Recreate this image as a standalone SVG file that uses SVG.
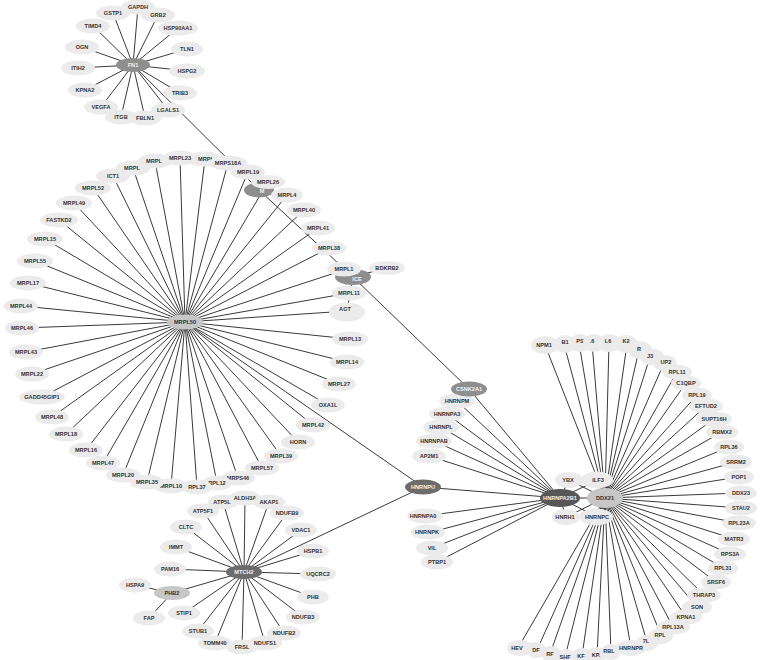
<svg xmlns="http://www.w3.org/2000/svg" width="779" height="660" viewBox="0 0 779 660">
<style>
.e line{stroke:#3a3a3a;stroke-width:1}
ellipse{fill:#ebebeb}
text{font-family:"Liberation Sans",Arial,sans-serif;font-weight:bold;font-size:5.6px;fill:#333;text-anchor:middle}
.hd ellipse{fill:#6c6c6c}
.hd text{fill:#f2f2f2}
.hm ellipse{fill:#8e8e8e}
.hm text{fill:#f2f2f2}
.hl ellipse{fill:#c6c6c6}
</style>
<rect width="779" height="660" fill="#fff"/>
<g id="edges" class="e">
<line x1="133" y1="65" x2="138" y2="7"/><line x1="133" y1="65" x2="113" y2="13"/><line x1="133" y1="65" x2="158" y2="15"/><line x1="133" y1="65" x2="93" y2="26"/><line x1="133" y1="65" x2="178" y2="28"/><line x1="133" y1="65" x2="82" y2="47"/><line x1="133" y1="65" x2="187" y2="49"/><line x1="133" y1="65" x2="78" y2="68"/><line x1="133" y1="65" x2="187" y2="71"/><line x1="133" y1="65" x2="85" y2="90"/><line x1="133" y1="65" x2="180" y2="93"/><line x1="133" y1="65" x2="101" y2="107"/><line x1="133" y1="65" x2="168" y2="110"/><line x1="133" y1="65" x2="121" y2="117"/><line x1="133" y1="65" x2="145" y2="118"/>
<line x1="133" y1="65" x2="259" y2="190"/>
<line x1="259" y1="190" x2="353" y2="277"/>
<line x1="353" y1="277" x2="386" y2="268"/>
<line x1="353" y1="277" x2="347" y2="311"/>
<line x1="353" y1="277" x2="469" y2="389"/>
<line x1="185" y1="322" x2="423" y2="487"/>
<line x1="244" y1="572" x2="423" y2="487"/>
<line x1="423" y1="487" x2="560" y2="498"/>
<line x1="469" y1="389" x2="560" y2="498"/>
<line x1="185" y1="322" x2="28" y2="283"/><line x1="185" y1="322" x2="35" y2="261"/><line x1="185" y1="322" x2="45" y2="239"/><line x1="185" y1="322" x2="59" y2="220"/><line x1="185" y1="322" x2="74" y2="203"/><line x1="185" y1="322" x2="93" y2="188"/><line x1="185" y1="322" x2="113" y2="176"/><line x1="185" y1="322" x2="133" y2="168"/><line x1="185" y1="322" x2="155" y2="161"/><line x1="185" y1="322" x2="180" y2="158"/><line x1="185" y1="322" x2="205" y2="159"/><line x1="185" y1="322" x2="228" y2="163"/><line x1="185" y1="322" x2="248" y2="172"/><line x1="185" y1="322" x2="268" y2="182"/><line x1="185" y1="322" x2="287" y2="195"/><line x1="185" y1="322" x2="304" y2="210"/><line x1="185" y1="322" x2="318" y2="228"/><line x1="185" y1="322" x2="329" y2="248"/><line x1="185" y1="322" x2="344" y2="270"/><line x1="185" y1="322" x2="349" y2="293"/><line x1="185" y1="322" x2="347" y2="311"/><line x1="185" y1="322" x2="350" y2="339"/><line x1="185" y1="322" x2="347" y2="362"/><line x1="185" y1="322" x2="339" y2="384"/><line x1="185" y1="322" x2="328" y2="405"/><line x1="185" y1="322" x2="313" y2="425"/><line x1="185" y1="322" x2="298" y2="442"/><line x1="185" y1="322" x2="281" y2="456"/><line x1="185" y1="322" x2="262" y2="468"/><line x1="185" y1="322" x2="238" y2="478"/><line x1="185" y1="322" x2="217" y2="483"/><line x1="185" y1="322" x2="197" y2="487"/><line x1="185" y1="322" x2="171" y2="486"/><line x1="185" y1="322" x2="147" y2="482"/><line x1="185" y1="322" x2="123" y2="475"/><line x1="185" y1="322" x2="103" y2="463"/><line x1="185" y1="322" x2="86" y2="450"/><line x1="185" y1="322" x2="66" y2="434"/><line x1="185" y1="322" x2="52" y2="417"/><line x1="185" y1="322" x2="42" y2="397"/><line x1="185" y1="322" x2="32" y2="374"/><line x1="185" y1="322" x2="26" y2="352"/><line x1="185" y1="322" x2="22" y2="328"/><line x1="185" y1="322" x2="22" y2="306"/>
<line x1="244" y1="572" x2="245" y2="498"/><line x1="244" y1="572" x2="223" y2="502"/><line x1="244" y1="572" x2="203" y2="511"/><line x1="244" y1="572" x2="269" y2="502"/><line x1="244" y1="572" x2="287" y2="513"/><line x1="244" y1="572" x2="301" y2="530"/><line x1="244" y1="572" x2="313" y2="551"/><line x1="244" y1="572" x2="318" y2="574"/><line x1="244" y1="572" x2="313" y2="597"/><line x1="244" y1="572" x2="303" y2="617"/><line x1="244" y1="572" x2="284" y2="633"/><line x1="244" y1="572" x2="265" y2="643"/><line x1="244" y1="572" x2="242" y2="647"/><line x1="244" y1="572" x2="215" y2="643"/><line x1="244" y1="572" x2="198" y2="631"/><line x1="244" y1="572" x2="184" y2="613"/><line x1="244" y1="572" x2="172" y2="593"/><line x1="244" y1="572" x2="170" y2="569"/><line x1="244" y1="572" x2="176" y2="547"/><line x1="244" y1="572" x2="186" y2="527"/>
<line x1="172" y1="593" x2="135" y2="585"/><line x1="172" y1="593" x2="149" y2="618"/>
<line x1="560" y1="498" x2="457" y2="401"/><line x1="560" y1="498" x2="447" y2="414"/><line x1="560" y1="498" x2="441" y2="427"/><line x1="560" y1="498" x2="434" y2="441"/><line x1="560" y1="498" x2="429" y2="456"/><line x1="560" y1="498" x2="424" y2="516"/><line x1="560" y1="498" x2="428" y2="533"/><line x1="560" y1="498" x2="432" y2="548"/><line x1="560" y1="498" x2="437" y2="562"/>
<line x1="560" y1="498" x2="569" y2="480"/><line x1="560" y1="498" x2="598" y2="480"/><line x1="560" y1="498" x2="566" y2="517"/><line x1="560" y1="498" x2="597" y2="517"/><line x1="560" y1="498" x2="605" y2="498"/>
<line x1="605" y1="498" x2="569" y2="480"/><line x1="605" y1="498" x2="598" y2="480"/><line x1="605" y1="498" x2="566" y2="517"/><line x1="605" y1="498" x2="597" y2="517"/>
<line x1="605" y1="498" x2="545" y2="345"/><line x1="605" y1="498" x2="564" y2="344"/><line x1="605" y1="498" x2="579" y2="343"/><line x1="605" y1="498" x2="592" y2="343"/><line x1="605" y1="498" x2="609" y2="343"/><line x1="605" y1="498" x2="627" y2="344"/><line x1="605" y1="498" x2="639" y2="350"/><line x1="605" y1="498" x2="650" y2="357"/><line x1="605" y1="498" x2="664" y2="363"/><line x1="605" y1="498" x2="677" y2="372"/><line x1="605" y1="498" x2="686" y2="383"/><line x1="605" y1="498" x2="697" y2="395"/><line x1="605" y1="498" x2="706" y2="406"/><line x1="605" y1="498" x2="714" y2="419"/><line x1="605" y1="498" x2="722" y2="432"/><line x1="605" y1="498" x2="729" y2="447"/><line x1="605" y1="498" x2="736" y2="462"/><line x1="605" y1="498" x2="739" y2="477"/><line x1="605" y1="498" x2="741" y2="493"/><line x1="605" y1="498" x2="741" y2="508"/><line x1="605" y1="498" x2="739" y2="523"/><line x1="605" y1="498" x2="734" y2="539"/><line x1="605" y1="498" x2="730" y2="554"/><line x1="605" y1="498" x2="723" y2="568"/><line x1="605" y1="498" x2="716" y2="582"/><line x1="605" y1="498" x2="704" y2="595"/><line x1="605" y1="498" x2="697" y2="607"/><line x1="605" y1="498" x2="686" y2="617"/><line x1="605" y1="498" x2="673" y2="627"/><line x1="605" y1="498" x2="661" y2="635"/><line x1="605" y1="498" x2="647" y2="642"/><line x1="605" y1="498" x2="631" y2="648"/><line x1="605" y1="498" x2="611" y2="652"/><line x1="605" y1="498" x2="597" y2="655"/><line x1="605" y1="498" x2="582" y2="656"/><line x1="605" y1="498" x2="565" y2="657"/><line x1="605" y1="498" x2="550" y2="654"/><line x1="605" y1="498" x2="537" y2="650"/><line x1="605" y1="498" x2="518" y2="648"/>
</g>
<g id="GAPDH"><ellipse cx="138" cy="7" rx="17" ry="7.5"/><text x="138" y="9">GAPDH</text></g>
<g id="GSTP1"><ellipse cx="113" cy="13" rx="17" ry="7.5"/><text x="113" y="15">GSTP1</text></g>
<g id="GRB2"><ellipse cx="158" cy="15" rx="17" ry="7.5"/><text x="158" y="17">GRB2</text></g>
<g id="TIMD4"><ellipse cx="93" cy="26" rx="17" ry="7.5"/><text x="93" y="28">TIMD4</text></g>
<g id="HSP90AA1"><ellipse cx="178" cy="28" rx="20" ry="7.5"/><text x="178" y="30">HSP90AA1</text></g>
<g id="OGN"><ellipse cx="82" cy="47" rx="17" ry="7.5"/><text x="82" y="49">OGN</text></g>
<g id="TLN1"><ellipse cx="187" cy="49" rx="16" ry="7.5"/><text x="187" y="51">TLN1</text></g>
<g id="ITIH2"><ellipse cx="78" cy="68" rx="17" ry="7.5"/><text x="78" y="70">ITIH2</text></g>
<g id="HSPG2"><ellipse cx="187" cy="71" rx="18" ry="7.5"/><text x="187" y="73">HSPG2</text></g>
<g id="KPNA2"><ellipse cx="85" cy="90" rx="17" ry="7.5"/><text x="85" y="92">KPNA2</text></g>
<g id="TRIB3"><ellipse cx="180" cy="93" rx="17" ry="7.5"/><text x="180" y="95">TRIB3</text></g>
<g id="VEGFA"><ellipse cx="101" cy="107" rx="17" ry="7.5"/><text x="101" y="109">VEGFA</text></g>
<g id="LGALS1"><ellipse cx="168" cy="110" rx="17" ry="7.5"/><text x="168" y="112">LGALS1</text></g>
<g id="ITGB"><ellipse cx="121" cy="117" rx="16" ry="7.5"/><text x="121" y="119">ITGB</text></g>
<g id="FBLN1"><ellipse cx="145" cy="118" rx="16" ry="7.5"/><text x="145" y="120">FBLN1</text></g>
<g id="FN1" class="hm"><ellipse cx="133" cy="65" rx="17" ry="7"/><text x="133" y="67">FN1</text></g>
<g id="MRPL17"><ellipse cx="28" cy="283" rx="18" ry="7.5"/><text x="28" y="285">MRPL17</text></g>
<g id="MRPL55"><ellipse cx="35" cy="261" rx="18" ry="7.5"/><text x="35" y="263">MRPL55</text></g>
<g id="MRPL15"><ellipse cx="45" cy="239" rx="18" ry="7.5"/><text x="45" y="241">MRPL15</text></g>
<g id="FASTKD2"><ellipse cx="59" cy="220" rx="19" ry="7.5"/><text x="59" y="222">FASTKD2</text></g>
<g id="MRPL49"><ellipse cx="74" cy="203" rx="18" ry="7.5"/><text x="74" y="205">MRPL49</text></g>
<g id="MRPL52"><ellipse cx="93" cy="188" rx="18" ry="7.5"/><text x="93" y="190">MRPL52</text></g>
<g id="ICT1"><ellipse cx="113" cy="176" rx="17" ry="7.5"/><text x="113" y="178">ICT1</text></g>
<g id="MRPL-a"><ellipse cx="133" cy="168" rx="17" ry="7.5"/><text x="132" y="170">MRPL</text></g>
<g id="MRPL-b"><ellipse cx="155" cy="161" rx="17" ry="7.5"/><text x="154" y="163">MRPL</text></g>
<g id="MRPL-c"><ellipse cx="205" cy="159" rx="17" ry="7.5"/><text x="206" y="161">MRPL</text></g>
<g id="MRPL23"><ellipse cx="180" cy="158" rx="17" ry="7.5"/><text x="180" y="160">MRPL23</text></g>
<g id="MRPS18A"><ellipse cx="228" cy="163" rx="19" ry="7.5"/><text x="228" y="165">MRPS18A</text></g>
<g id="MRPL19"><ellipse cx="248" cy="172" rx="17" ry="7.5"/><text x="248" y="174">MRPL19</text></g>
<g id="G1" class="hm"><ellipse cx="259" cy="190" rx="15" ry="7.5"/><text x="262" y="193">M</text></g>
<g id="MRPL26"><ellipse cx="268" cy="182" rx="17" ry="7"/><text x="268" y="184">MRPL26</text></g>
<g id="MRPL4"><ellipse cx="287" cy="195" rx="16" ry="7.5"/><text x="287" y="197">MRPL4</text></g>
<g id="MRPL40"><ellipse cx="304" cy="210" rx="17" ry="7.5"/><text x="304" y="212">MRPL40</text></g>
<g id="MRPL41"><ellipse cx="318" cy="228" rx="17" ry="7.5"/><text x="318" y="230">MRPL41</text></g>
<g id="MRPL38"><ellipse cx="329" cy="248" rx="17" ry="7.5"/><text x="329" y="250">MRPL38</text></g>
<g id="ICE" class="hm"><ellipse cx="353" cy="277" rx="18" ry="8"/><text x="357" y="281">ICE</text></g>
<g id="MRPL1"><ellipse cx="344" cy="269" rx="17" ry="7.5"/><text x="344" y="271">MRPL1</text></g>
<g id="BDKRB2"><ellipse cx="387" cy="268" rx="18" ry="7"/><text x="387" y="270">BDKRB2</text></g>
<g id="MRPL11"><ellipse cx="349" cy="293" rx="17" ry="7.5"/><text x="349" y="295">MRPL11</text></g>
<g id="AGT"><ellipse cx="347" cy="312" rx="18" ry="9.5"/><text x="345" y="311">AGT</text></g>
<g id="MRPL13"><ellipse cx="350" cy="339" rx="18" ry="7.5"/><text x="350" y="341">MRPL13</text></g>
<g id="MRPL14"><ellipse cx="347" cy="362" rx="17" ry="7.5"/><text x="347" y="364">MRPL14</text></g>
<g id="MRPL27"><ellipse cx="339" cy="384" rx="17" ry="7.5"/><text x="339" y="386">MRPL27</text></g>
<g id="OXA1L"><ellipse cx="328" cy="405" rx="17" ry="7.5"/><text x="328" y="407">OXA1L</text></g>
<g id="MRPL42"><ellipse cx="313" cy="425" rx="17" ry="7.5"/><text x="313" y="427">MRPL42</text></g>
<g id="HORN"><ellipse cx="298" cy="442" rx="17" ry="7.5"/><text x="298" y="444">HORN</text></g>
<g id="MRPL39"><ellipse cx="281" cy="456" rx="17" ry="7.5"/><text x="281" y="458">MRPL39</text></g>
<g id="MRPL57"><ellipse cx="262" cy="468" rx="17" ry="7.5"/><text x="262" y="470">MRPL57</text></g>
<g id="MRPS46"><ellipse cx="238" cy="478" rx="17" ry="7.5"/><text x="238" y="480">MRPS46</text></g>
<g id="RPL12"><ellipse cx="217" cy="483" rx="15" ry="7.5"/><text x="217" y="485">RPL12</text></g>
<g id="RPL37"><ellipse cx="197" cy="487" rx="15" ry="7.5"/><text x="197" y="489">RPL37</text></g>
<g id="MRPL10"><ellipse cx="171" cy="486" rx="17" ry="7.5"/><text x="171" y="488">MRPL10</text></g>
<g id="MRPL35"><ellipse cx="147" cy="482" rx="17" ry="7.5"/><text x="147" y="484">MRPL35</text></g>
<g id="MRPL20"><ellipse cx="123" cy="475" rx="17" ry="7.5"/><text x="123" y="477">MRPL20</text></g>
<g id="MRPL47"><ellipse cx="103" cy="463" rx="17" ry="7.5"/><text x="103" y="465">MRPL47</text></g>
<g id="MRPL16"><ellipse cx="86" cy="450" rx="17" ry="7.5"/><text x="86" y="452">MRPL16</text></g>
<g id="MRPL18"><ellipse cx="66" cy="434" rx="17" ry="7.5"/><text x="66" y="436">MRPL18</text></g>
<g id="MRPL48"><ellipse cx="52" cy="417" rx="17" ry="7.5"/><text x="52" y="419">MRPL48</text></g>
<g id="GADD45GIP1"><ellipse cx="42" cy="397" rx="23" ry="7.5"/><text x="42" y="399">GADD45GIP1</text></g>
<g id="MRPL22"><ellipse cx="32" cy="374" rx="17" ry="7.5"/><text x="32" y="376">MRPL22</text></g>
<g id="MRPL43"><ellipse cx="26" cy="352" rx="17" ry="7.5"/><text x="26" y="354">MRPL43</text></g>
<g id="MRPL46"><ellipse cx="22" cy="328" rx="17" ry="7.5"/><text x="22" y="330">MRPL46</text></g>
<g id="MRPL44"><ellipse cx="21" cy="306" rx="17" ry="7.5"/><text x="21" y="308">MRPL44</text></g>
<g id="MRPL50" class="hl"><ellipse cx="185" cy="322" rx="18" ry="7.5"/><text x="185" y="324">MRPL50</text></g>
<g id="ATP5L"><ellipse cx="223" cy="502" rx="15" ry="7.5"/><text x="222" y="504">ATP5L</text></g>
<g id="ALDH3A2"><ellipse cx="245" cy="498" rx="16" ry="7.5"/><text x="245" y="500">ALDH3A</text></g>
<g id="ATP5F1"><ellipse cx="203" cy="511" rx="16" ry="7.5"/><text x="203" y="513">ATP5F1</text></g>
<g id="AKAP1"><ellipse cx="269" cy="502" rx="16" ry="7.5"/><text x="269" y="504">AKAP1</text></g>
<g id="NDUFB9"><ellipse cx="287" cy="513" rx="17" ry="7.5"/><text x="287" y="515">NDUFB9</text></g>
<g id="VDAC1"><ellipse cx="301" cy="530" rx="16" ry="7.5"/><text x="301" y="532">VDAC1</text></g>
<g id="HSPB1"><ellipse cx="313" cy="551" rx="16" ry="7.5"/><text x="313" y="553">HSPB1</text></g>
<g id="UQCRC2"><ellipse cx="318" cy="574" rx="18" ry="7.5"/><text x="318" y="576">UQCRC2</text></g>
<g id="PHB"><ellipse cx="313" cy="597" rx="16" ry="7.5"/><text x="313" y="599">PHB</text></g>
<g id="NDUFB3"><ellipse cx="303" cy="617" rx="17" ry="7.5"/><text x="303" y="619">NDUFB3</text></g>
<g id="NDUFB2"><ellipse cx="284" cy="633" rx="17" ry="7.5"/><text x="284" y="635">NDUFB2</text></g>
<g id="FRSL"><ellipse cx="242" cy="647" rx="16" ry="7.5"/><text x="242" y="649">FRSL</text></g>
<g id="NDUFS1"><ellipse cx="265" cy="643" rx="17" ry="7.5"/><text x="265" y="645">NDUFS1</text></g>
<g id="TOMM40"><ellipse cx="215" cy="643" rx="17" ry="7.5"/><text x="215" y="645">TOMM40</text></g>
<g id="STUB1"><ellipse cx="198" cy="631" rx="16" ry="7.5"/><text x="198" y="633">STUB1</text></g>
<g id="STIP1"><ellipse cx="184" cy="613" rx="16" ry="7.5"/><text x="184" y="615">STIP1</text></g>
<g id="FAP"><ellipse cx="149" cy="618" rx="16" ry="7.5"/><text x="149" y="620">FAP</text></g>
<g id="HSPA9"><ellipse cx="135" cy="585" rx="16" ry="7.5"/><text x="135" y="587">HSPA9</text></g>
<g id="PAM16"><ellipse cx="170" cy="569" rx="16" ry="7.5"/><text x="170" y="571">PAM16</text></g>
<g id="IMMT"><ellipse cx="176" cy="547" rx="16" ry="7.5"/><text x="176" y="549">IMMT</text></g>
<g id="CLTC"><ellipse cx="186" cy="527" rx="16" ry="7.5"/><text x="186" y="529">CLTC</text></g>
<g id="PHB2" class="hl"><ellipse cx="172" cy="593" rx="18" ry="7"/><text x="172" y="595">PHB2</text></g>
<g id="MTCH2" class="hd"><ellipse cx="244" cy="572" rx="18" ry="7"/><text x="244" y="574">MTCH2</text></g>
<g id="HNRNPM"><ellipse cx="457" cy="401" rx="18" ry="7.5"/><text x="457" y="403">HNRNPM</text></g>
<g id="HNRNPA3"><ellipse cx="447" cy="414" rx="18" ry="7.5"/><text x="447" y="416">HNRNPA3</text></g>
<g id="HNRNPL"><ellipse cx="441" cy="427" rx="18" ry="7.5"/><text x="441" y="429">HNRNPL</text></g>
<g id="HNRNPAB"><ellipse cx="434" cy="441" rx="18" ry="7.5"/><text x="434" y="443">HNRNPAB</text></g>
<g id="AP2M1"><ellipse cx="429" cy="456" rx="17" ry="7.5"/><text x="429" y="458">AP2M1</text></g>
<g id="CSNK2A1" class="hm"><ellipse cx="469" cy="389" rx="18" ry="7.5"/><text x="469" y="391">CSNK2A1</text></g>
<g id="HNRNPA0"><ellipse cx="425" cy="516" rx="18" ry="7.5"/><text x="423" y="518">HNRNPA0</text></g>
<g id="HNRNPK"><ellipse cx="428" cy="532" rx="17" ry="7.5"/><text x="427" y="534">HNRNPK</text></g>
<g id="VIL"><ellipse cx="432" cy="548" rx="16" ry="7.5"/><text x="432" y="550">VIL</text></g>
<g id="PTBP1"><ellipse cx="437" cy="562" rx="16" ry="7.5"/><text x="437" y="564">PTBP1</text></g>
<g id="HNRNPU" class="hd"><ellipse cx="423" cy="487" rx="18" ry="7.5"/><text x="423" y="489">HNRNPU</text></g>
<g id="a-B1"><ellipse cx="565" cy="344" rx="11" ry="9"/><text x="565" y="344">B1</text></g>
<g id="a-PS"><ellipse cx="580" cy="343" rx="11" ry="9"/><text x="580" y="343">PS</text></g>
<g id="a-S6"><ellipse cx="594" cy="343" rx="11" ry="9"/><text x="592" y="343">.6</text></g>
<g id="a-L6"><ellipse cx="609" cy="343" rx="12" ry="9"/><text x="608" y="343">L6</text></g>
<g id="a-K2"><ellipse cx="626" cy="344" rx="12" ry="9"/><text x="626" y="343">K2</text></g>
<g id="a-R"><ellipse cx="640" cy="350" rx="12" ry="9"/><text x="639" y="351">R</text></g>
<g id="a-J3"><ellipse cx="652" cy="357" rx="12" ry="8.5"/><text x="650" y="358">J3</text></g>
<g id="a-UP2"><ellipse cx="665" cy="363" rx="12" ry="8"/><text x="666" y="364">UP2</text></g>
<g id="NPM1"><ellipse cx="545" cy="345" rx="14" ry="9"/><text x="544" y="347">NPM1</text></g>
<g id="RPL11"><ellipse cx="677" cy="372" rx="15" ry="7.5"/><text x="677" y="374">RPL11</text></g>
<g id="C1QBP"><ellipse cx="686" cy="383" rx="15" ry="7.5"/><text x="686" y="385">C1QBP</text></g>
<g id="RPL19"><ellipse cx="697" cy="395" rx="15" ry="7.5"/><text x="697" y="397">RPL19</text></g>
<g id="EFTUD2"><ellipse cx="706" cy="406" rx="17" ry="7.5"/><text x="706" y="408">EFTUD2</text></g>
<g id="SUPT16H"><ellipse cx="714" cy="419" rx="18" ry="7.5"/><text x="714" y="421">SUPT16H</text></g>
<g id="RBMX2"><ellipse cx="722" cy="432" rx="16" ry="7.5"/><text x="722" y="434">RBMX2</text></g>
<g id="RPL36"><ellipse cx="729" cy="447" rx="15" ry="7.5"/><text x="729" y="449">RPL36</text></g>
<g id="SRRM2"><ellipse cx="736" cy="462" rx="16" ry="7.5"/><text x="736" y="464">SRRM2</text></g>
<g id="POP1"><ellipse cx="739" cy="477" rx="15" ry="7.5"/><text x="739" y="479">POP1</text></g>
<g id="DDX23"><ellipse cx="741" cy="493" rx="16" ry="7.5"/><text x="741" y="495">DDX23</text></g>
<g id="STAU2"><ellipse cx="741" cy="508" rx="16" ry="7.5"/><text x="741" y="510">STAU2</text></g>
<g id="RPL23A"><ellipse cx="739" cy="523" rx="17" ry="7.5"/><text x="739" y="525">RPL23A</text></g>
<g id="MATR3"><ellipse cx="734" cy="539" rx="16" ry="7.5"/><text x="734" y="541">MATR3</text></g>
<g id="RPS3A"><ellipse cx="730" cy="554" rx="16" ry="7.5"/><text x="730" y="556">RPS3A</text></g>
<g id="RPL31"><ellipse cx="723" cy="568" rx="15" ry="7.5"/><text x="723" y="570">RPL31</text></g>
<g id="SRSF6"><ellipse cx="716" cy="582" rx="15" ry="7.5"/><text x="716" y="584">SRSF6</text></g>
<g id="THRAP3"><ellipse cx="704" cy="595" rx="17" ry="7.5"/><text x="704" y="597">THRAP3</text></g>
<g id="SON"><ellipse cx="697" cy="607" rx="15" ry="7.5"/><text x="697" y="609">SON</text></g>
<g id="KPNA1"><ellipse cx="686" cy="617" rx="16" ry="7.5"/><text x="686" y="619">KPNA1</text></g>
<g id="b-HEV"><ellipse cx="520" cy="648" rx="13" ry="8"/><text x="517" y="650">HEV</text></g>
<g id="b-DF"><ellipse cx="536" cy="650" rx="10" ry="8"/><text x="536" y="652">DF</text></g>
<g id="b-RF"><ellipse cx="551" cy="654" rx="10" ry="8"/><text x="550" y="656">RF</text></g>
<g id="b-SHF"><ellipse cx="566" cy="657" rx="10" ry="8"/><text x="565" y="659">SHF</text></g>
<g id="b-KF"><ellipse cx="582" cy="656" rx="10" ry="8"/><text x="581" y="658">KF</text></g>
<g id="b-KP"><ellipse cx="597" cy="655" rx="10" ry="8"/><text x="596" y="657">KP.</text></g>
<g id="b-RBL"><ellipse cx="611" cy="652" rx="10" ry="8"/><text x="609" y="653">RBL</text></g>
<g id="b-7L"><ellipse cx="647" cy="643" rx="11" ry="8"/><text x="646" y="643">7L</text></g>
<g id="b-RPL"><ellipse cx="661" cy="636" rx="12" ry="8"/><text x="660" y="637">RPL</text></g>
<g id="RPL13A"><ellipse cx="673" cy="627" rx="17" ry="7.5"/><text x="673" y="629">RPL13A</text></g>
<g id="HNRNPR"><ellipse cx="631" cy="648" rx="15" ry="8"/><text x="631" y="650">HNRNPR</text></g>
<g id="YBX1"><ellipse cx="569" cy="480" rx="14" ry="8"/><text x="568" y="482">YBX</text></g>
<g id="ILF3"><ellipse cx="597" cy="480" rx="16" ry="8.5"/><text x="598" y="482">ILF3</text></g>
<g id="HNRNPH1"><ellipse cx="566" cy="517" rx="14" ry="8"/><text x="565" y="519">HNRH1</text></g>
<g id="HNRNPC"><ellipse cx="596" cy="517" rx="17" ry="8.5"/><text x="597" y="519">HNRNPC</text></g>
<g id="HNRNPA2B1" class="hd"><ellipse cx="560" cy="498" rx="20" ry="9" style="fill:#575757"/><text x="560" y="500">HNRNPA2B1</text></g>
<g id="DDX21" class="hl"><ellipse cx="605" cy="498" rx="18" ry="10"/><text x="605" y="500">DDX21</text></g>
</svg>
